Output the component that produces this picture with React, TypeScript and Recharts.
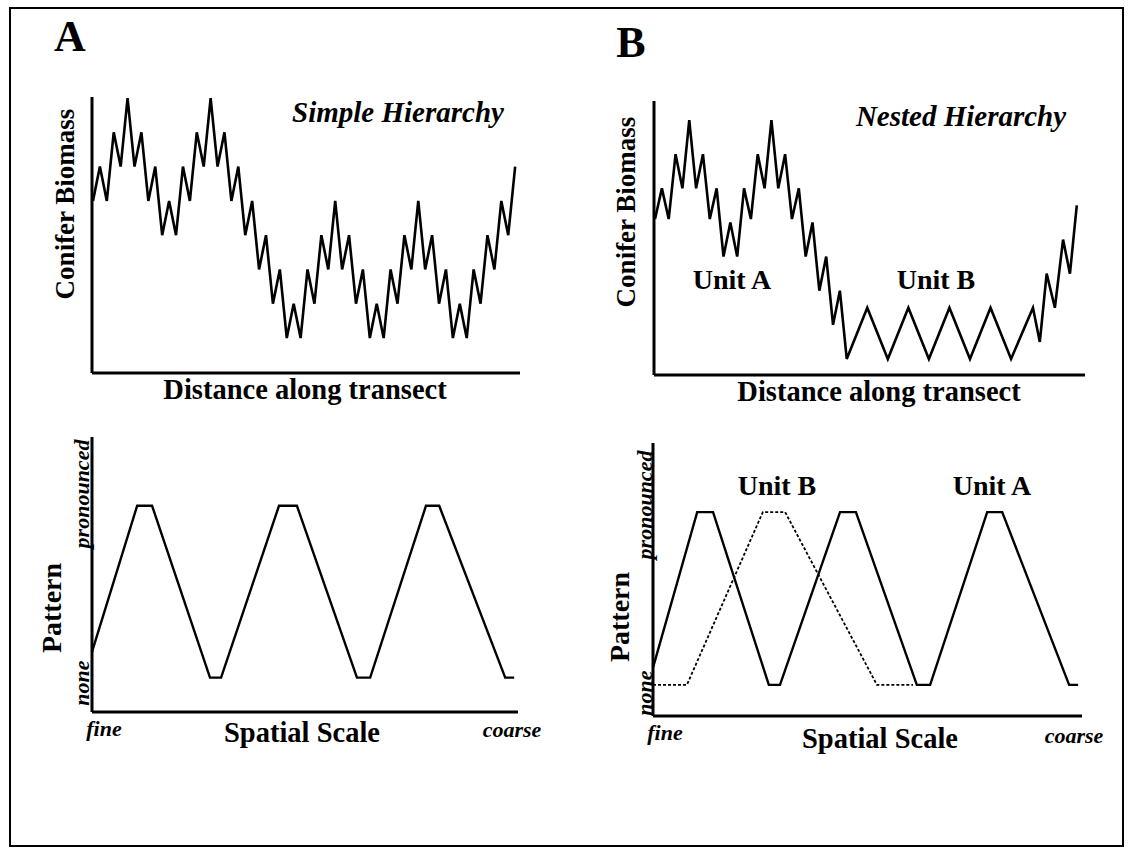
import React from "react";
import { LineChart, Line, XAxis, YAxis } from "recharts";

// ---- Panel A (top): simple hierarchy transect ----
const simpleDistance = [
  0, 1, 2, 3, 4, 5, 6, 7, 8, 9, 10, 11, 12, 13, 14, 15, 16, 17, 18, 19, 20,
  21, 22, 23, 24, 25, 26, 27, 28, 29, 30, 31, 32, 33, 34, 35, 36, 37, 38, 39,
  40, 41, 42, 43, 44, 45, 46, 47, 48, 49, 50, 51, 52, 53, 54, 55, 56, 57, 58,
  59, 60, 61,
];
const simpleBiomass = [
  4, 5, 4, 6, 5, 7, 5, 6, 4, 5, 3, 4, 3, 5, 4, 6, 5, 7, 5, 6, 4, 5, 3, 4, 2, 3,
  1, 2, 0, 1, 0, 2, 1, 3, 2, 4, 2, 3, 1, 2, 0, 1, 0, 2, 1, 3, 2, 4, 2, 3, 1, 2,
  0, 1, 0, 2, 1, 3, 2, 4, 3, 5,
];

// ---- Panel B (top): nested hierarchy transect ----
const nestedDistance = [
  0, 1, 2, 3, 4, 5, 6, 7, 8, 9, 10, 11, 12, 13, 14, 15, 16, 17, 18, 19, 20,
  21, 22, 23, 24, 25, 26, 27, 28, 31, 34, 37, 40, 43, 46, 49, 52, 55.2, 56.2,
  57.2, 58.4, 59.6, 60.6, 61.6,
];
const nestedBiomass = [
  4.1, 5, 4.1, 6, 5, 7, 5, 6, 4.1, 5, 3, 4, 3, 5, 4.1, 6, 5, 7, 5, 6, 4.1, 5,
  3, 4, 2, 3, 1, 2, 0, 1.5, 0, 1.5, 0, 1.5, 0, 1.5, 0, 1.5, 0.5, 2.5, 1.5, 3.5,
  2.5, 4.5,
];

// ---- Panel A (bottom): pattern vs spatial scale ----
const scaleSimple = [0, 10.6, 14.1, 27.7, 30.3, 43.9, 48.1, 62.2, 65.3, 78.4, 81.5, 97.0, 99.1];
const patternSimple = [0.15, 1, 1, 0, 0, 1, 1, 0, 0, 1, 1, 0, 0];

// ---- Panel B (bottom): Unit A (solid) and Unit B (dotted) ----
const scaleUnitA = [0, 10.3, 14.0, 27.0, 29.6, 43.6, 47.3, 61.5, 64.6, 77.9, 81.4, 97.0, 99.1];
const patternUnitA = [0.1, 1, 1, 0, 0, 1, 1, 0, 0, 1, 1, 0, 0];
const scaleUnitB = [0, 7.9, 25.6, 30.8, 52.2, 60.6];
const patternUnitB = [0, 0, 1, 1, 0, 0];

const zip = (xs: number[], ys: number[]) => xs.map((x, i) => ({ x, y: ys[i] }));

const FONT = "'Liberation Serif', 'Times New Roman', serif";
const M = 10;

type LineSpec = { data: { x: number; y: number }[]; width: number; dash?: string };

function Panel(props: {
  left: number;
  top: number;
  plotW: number;
  plotH: number;
  xDomain: [number, number];
  yDomain: [number, number];
  lines: LineSpec[];
}) {
  const { left, top, plotW, plotH, xDomain, yDomain, lines } = props;
  const axisLine = { stroke: "#000", strokeWidth: 3 };
  return (
    <div style={{ position: "absolute", left: left - M, top: top - M }}>
      <LineChart
        width={plotW + 2 * M}
        height={plotH + 2 * M}
        margin={{ top: M, right: M, bottom: M - 1, left: M - 1 }}
      >
        <XAxis
          type="number"
          dataKey="x"
          domain={xDomain}
          allowDataOverflow
          height={1}
          tick={false}
          tickLine={false}
          axisLine={axisLine}
        />
        <YAxis
          type="number"
          dataKey="y"
          domain={yDomain}
          allowDataOverflow
          width={1}
          tick={false}
          tickLine={false}
          axisLine={axisLine}
        />
        {lines.map((l, i) => (
          <Line
            key={i}
            data={l.data}
            dataKey="y"
            type="linear"
            stroke="#000"
            strokeWidth={l.width}
            strokeDasharray={l.dash}
            dot={false}
            activeDot={false}
            isAnimationActive={false}
          />
        ))}
      </LineChart>
    </div>
  );
}

function Txt(props: {
  x: number;
  y: number;
  size: number;
  bold?: boolean;
  italic?: boolean;
  rotate?: boolean;
  children: React.ReactNode;
}) {
  const { x, y, size, bold, italic, rotate, children } = props;
  return (
    <div
      style={{
        position: "absolute",
        left: x,
        top: y,
        transform: `translate(-50%, -50%)${rotate ? " rotate(-90deg)" : ""}`,
        fontFamily: FONT,
        fontSize: size,
        fontWeight: bold ? 700 : 400,
        fontStyle: italic ? "italic" : "normal",
        whiteSpace: "nowrap",
        lineHeight: 1,
        color: "#000",
      }}
    >
      {children}
    </div>
  );
}

export default function App() {
  return (
    <div
      style={{
        position: "absolute",
        left: 0,
        top: 0,
        width: 1133,
        height: 851,
        background: "#fff",
        overflow: "hidden",
      }}
    >
      {/* outer frame */}
      <div
        style={{
          position: "absolute",
          left: 9,
          top: 7,
          width: 1111,
          height: 836,
          border: "2px solid #000",
        }}
      />

      {/* Panel A top */}
      <Panel
        left={92}
        top={97}
        plotW={428}
        plotH={276}
        xDomain={[-0.14, 61.7]}
        yDomain={[-1.02, 7.03]}
        lines={[{ data: zip(simpleDistance, simpleBiomass), width: 2.6 }]}
      />
      {/* Panel B top */}
      <Panel
        left={654}
        top={101}
        plotW={431}
        plotH={274}
        xDomain={[-0.15, 62.8]}
        yDomain={[-0.47, 7.56]}
        lines={[{ data: zip(nestedDistance, nestedBiomass), width: 2.6 }]}
      />
      {/* Panel A bottom */}
      <Panel
        left={92}
        top={437}
        plotW={426}
        plotH={275}
        xDomain={[0, 100]}
        yDomain={[-0.2, 1.4]}
        lines={[{ data: zip(scaleSimple, patternSimple), width: 2.4 }]}
      />
      {/* Panel B bottom */}
      <Panel
        left={653}
        top={443}
        plotW={429}
        plotH={273}
        xDomain={[0, 100]}
        yDomain={[-0.18, 1.4]}
        lines={[
          { data: zip(scaleUnitA, patternUnitA), width: 2.4 },
          { data: zip(scaleUnitB, patternUnitB), width: 1.8, dash: "3 2" },
        ]}
      />

      {/* panel letters */}
      <Txt x={70} y={37} size={44} bold>A</Txt>
      <Txt x={631} y={43} size={44} bold>B</Txt>

      {/* top titles */}
      <Txt x={398} y={112} size={29} bold italic>Simple Hierarchy</Txt>
      <Txt x={961} y={116} size={29} bold italic>Nested Hierarchy</Txt>

      {/* top axis labels */}
      <Txt x={65} y={204} size={27} bold rotate>Conifer Biomass</Txt>
      <Txt x={626} y={212} size={27} bold rotate>Conifer Biomass</Txt>
      <Txt x={305} y={390} size={28.5} bold>Distance along transect</Txt>
      <Txt x={879} y={392} size={28.5} bold>Distance along transect</Txt>

      {/* nested unit labels */}
      <Txt x={732} y={280} size={28} bold>Unit A</Txt>
      <Txt x={936} y={280} size={28} bold>Unit B</Txt>

      {/* bottom A labels */}
      <Txt x={52} y={608} size={28} bold rotate>Pattern</Txt>
      <Txt x={82} y={494} size={22} bold italic rotate>pronounced</Txt>
      <Txt x={82} y={683} size={22} bold italic rotate>none</Txt>
      <Txt x={104} y={729} size={22} bold italic>fine</Txt>
      <Txt x={302} y={733} size={28.5} bold>Spatial Scale</Txt>
      <Txt x={512} y={730} size={22} bold italic>coarse</Txt>

      {/* bottom B labels */}
      <Txt x={620} y={617} size={28} bold rotate>Pattern</Txt>
      <Txt x={645} y={505} size={22} bold italic rotate>pronounced</Txt>
      <Txt x={645} y={693} size={22} bold italic rotate>none</Txt>
      <Txt x={665} y={733} size={22} bold italic>fine</Txt>
      <Txt x={880} y={739} size={28.5} bold>Spatial Scale</Txt>
      <Txt x={1074} y={736} size={22} bold italic>coarse</Txt>
      <Txt x={777} y={486} size={28} bold>Unit B</Txt>
      <Txt x={992} y={486} size={28} bold>Unit A</Txt>
    </div>
  );
}
